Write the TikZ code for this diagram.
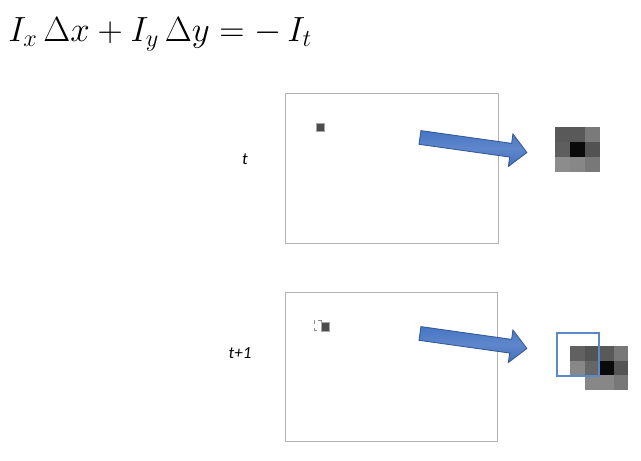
\documentclass[tikz,border=0pt]{standalone}
\usepackage{amsmath}
\usepackage{fontspec}
\usetikzlibrary{shapes.arrows,positioning}
\newfontfamily\labelfont{Carlito}
\newlength{\pxu}
\setlength{\pxu}{0.025cm}
\definecolor{arrowblue}{RGB}{72,118,196}
\definecolor{arrowedge}{RGB}{50,88,150}
\definecolor{winblue}{RGB}{92,136,198}
\definecolor{framegray}{RGB}{178,178,178}

\begin{document}
\begin{tikzpicture}[
x=\pxu, y=-\pxu,
frame/.style={draw=framegray, line width=0.8pt, fill=white},
timelabel/.style={font=\labelfont\itshape\fontsize{12}{13}\selectfont, inner sep=0},
flowarrow/.style={single arrow, draw=arrowedge, line width=0.6pt,
  top color=arrowblue, bottom color=arrowblue!95!black, middle color=arrowblue!88!white,
  minimum height=108\pxu, single arrow head extend=9.5\pxu,
  inner sep=0, rotate=-8},
cell/.style={minimum size=15\pxu, inner sep=0, outer sep=0, anchor=north west},
smallcell/.style={minimum size=14.5\pxu, inner sep=0, outer sep=0, anchor=north west}
]
\useasboundingbox (0,0) rectangle (641,461);

% Equation
\node[anchor=base west, inner sep=0, font=\fontsize{26.5}{30}\selectfont] (eq) at (8,41)
  {$I_x\,\Delta x + I_y\,\Delta y = -\,I_t$};

% Frames
\node[frame, minimum width=213\pxu, minimum height=150\pxu, anchor=north west] (frameT) at (285,93) {};
\node[frame, minimum width=212\pxu, minimum height=149\pxu, anchor=north west] (frameB) at (285,292) {};

% Time labels
\node[timelabel] (labT) at (245,159) {t};
\node[timelabel] (labB) at (240,353) {t+1};

% Tiny patches in the frames
\fill[black!70, draw=black!35, line width=0.6pt] (316,123) rectangle (324,131);
\draw[black!45, dashed, line width=0.6pt] (314,320) rectangle (321,330);
\fill[black!70, draw=black!35, line width=0.6pt] (321,322) rectangle (329,331);

% Arrows
\node[flowarrow] (arrT) at (470,144.5) {\rule{0pt}{13\pxu}};
\node[flowarrow] (arrB) at (470,340.5) {\rule{0pt}{13\pxu}};

% Patch at t
\foreach \g [count=\i from 0] in {65,65,52,63,96,68,45,47,53}{
  \pgfmathtruncatemacro{\c}{mod(\i,3)}
  \pgfmathtruncatemacro{\r}{div(\i,3)}
  \node[cell, fill=black!\g] (pT\i) at ({555+15*\c},{127+15*\r}) {};
}

% Patch at t+1
\foreach \g [count=\i from 0] in {62,67,65,53,47,60,96,67,0,47,47,53}{
  \pgfmathtruncatemacro{\c}{mod(\i,4)}
  \pgfmathtruncatemacro{\r}{div(\i,4)}
  \ifnum\g>0
    \node[smallcell, fill=black!\g] (pB\i) at ({570+14.5*\c},{346+14.5*\r}) {};
  \fi
}
\draw[winblue, line width=0.8pt] (557,333) rectangle (599,376);

\end{tikzpicture}
\end{document}
